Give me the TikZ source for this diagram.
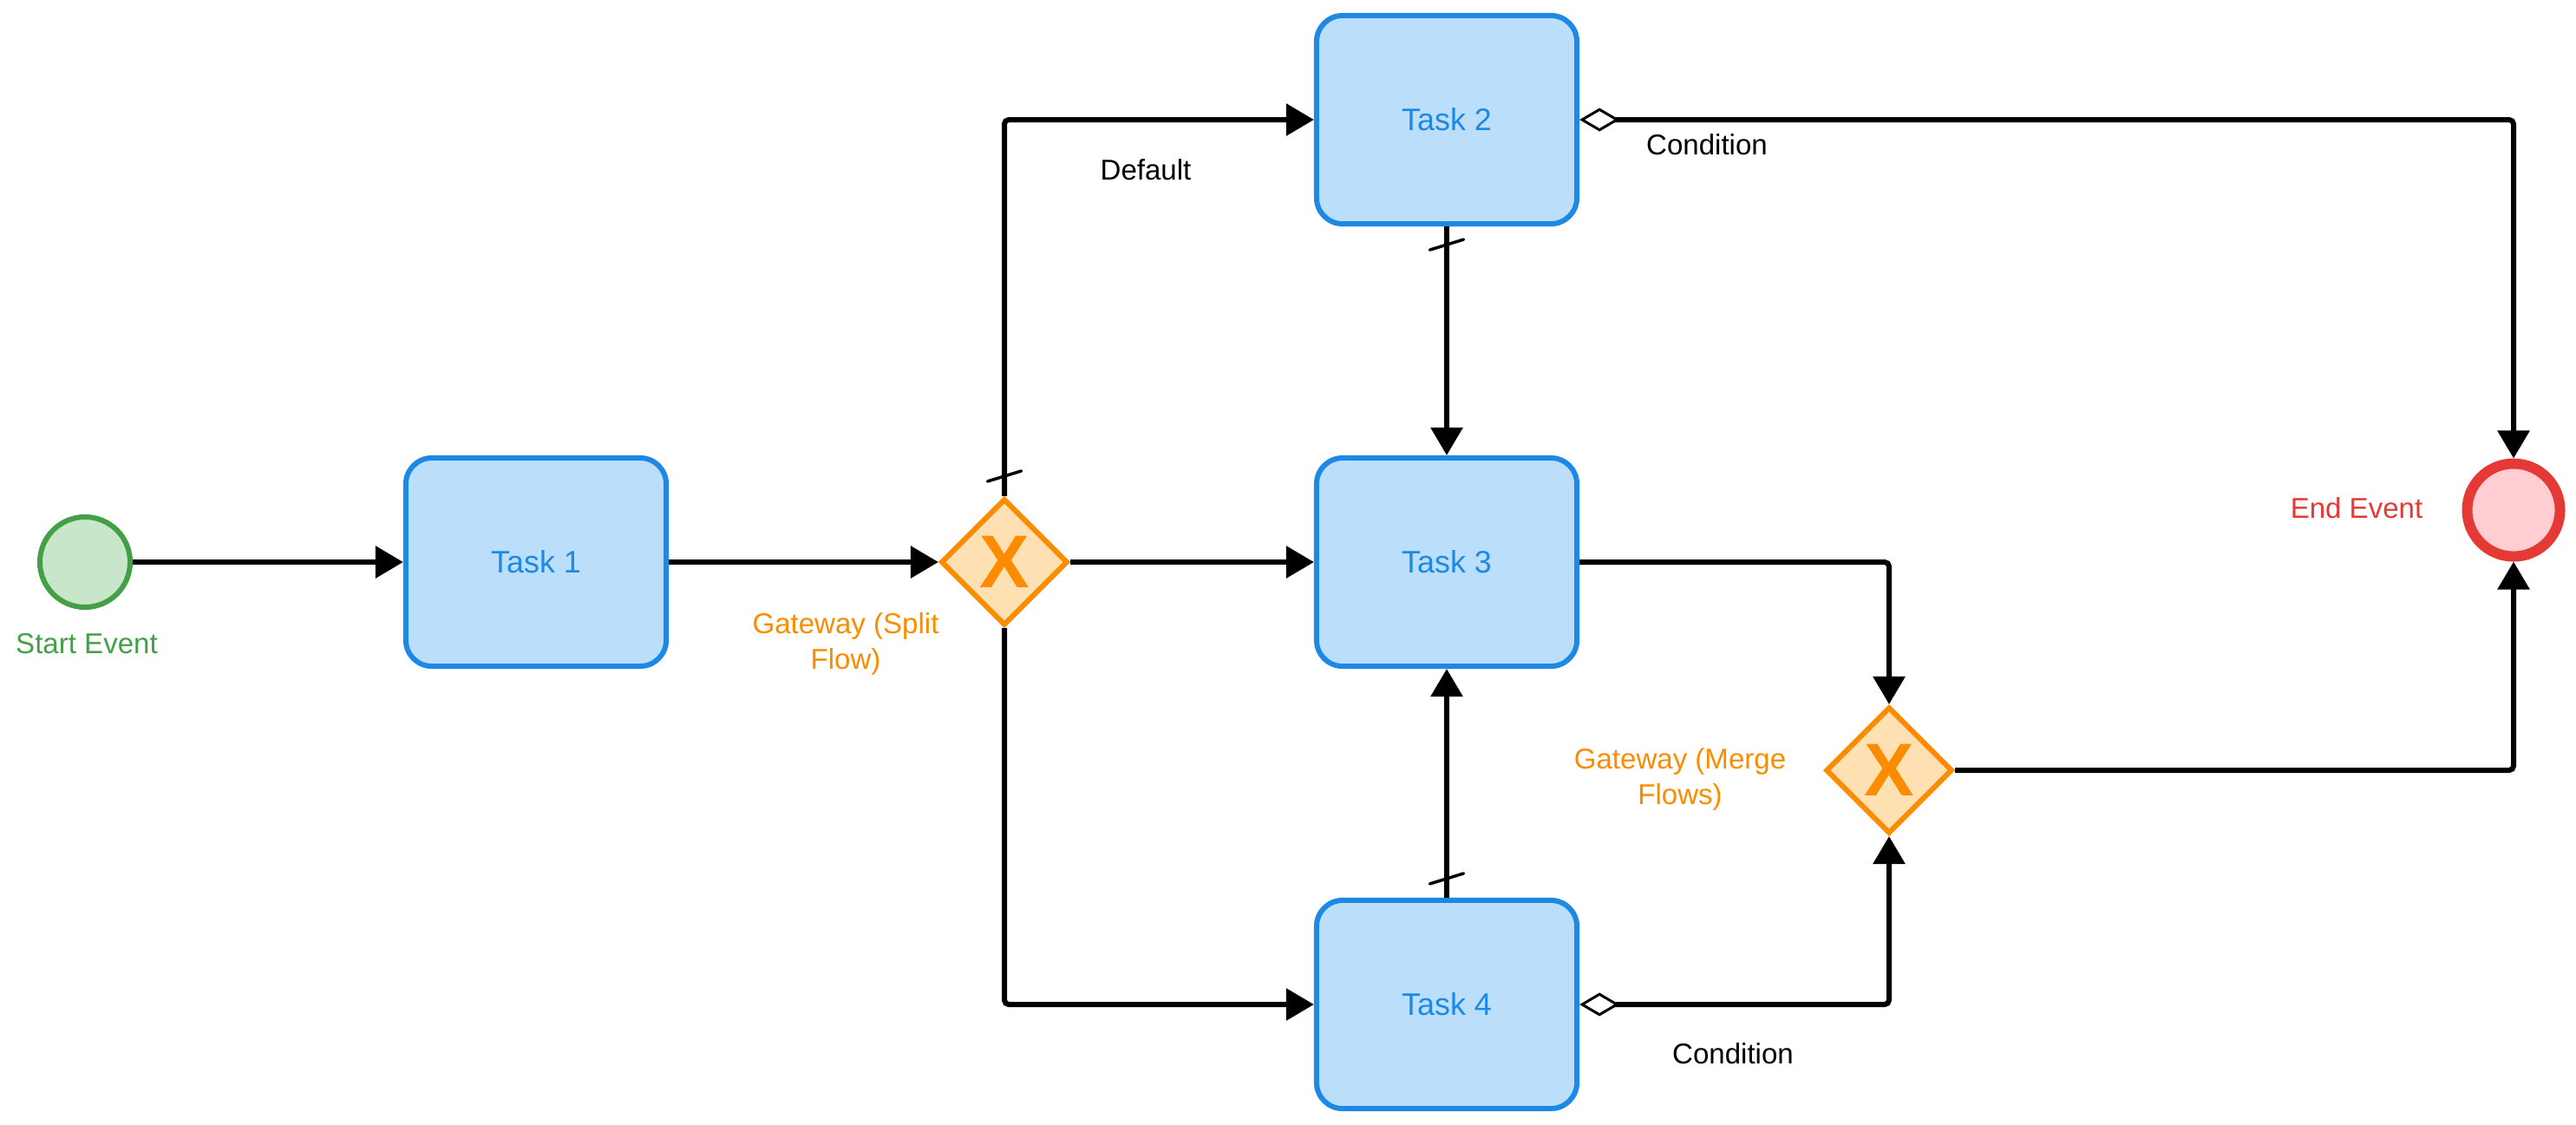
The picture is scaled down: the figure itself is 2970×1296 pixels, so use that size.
\documentclass[tikz,border=0pt]{standalone}
\usepackage{fontspec}
\setmainfont{Liberation Sans}
\usetikzlibrary{shapes.geometric,arrows.meta,calc}
\definecolor{taskfill}{HTML}{BBDEFB}
\definecolor{taskline}{HTML}{1E88E5}
\definecolor{startfill}{HTML}{C8E6C9}
\definecolor{startline}{HTML}{43A047}
\definecolor{gwfill}{HTML}{FFE0B2}
\definecolor{gwline}{HTML}{FB8C00}
\definecolor{endfill}{HTML}{FFCDD2}
\definecolor{endline}{HTML}{E53935}

\begin{document}
\begin{tikzpicture}[x=0.01cm,y=-0.01cm,
  lbl/.style={font=\fontsize{9.4pt}{11.7pt}\selectfont, inner sep=0pt, align=center},
  task/.style={rectangle, rounded corners=0.3cm, draw=taskline, fill=taskfill,
    line width=0.06cm, minimum width=3cm, minimum height=2.4cm, text=taskline,
    font=\fontsize{10.2pt}{12pt}\selectfont},
  event/.style={circle, line width=0.06cm, minimum size=1.04cm, inner sep=0pt},
  gateway/.style={diamond, aspect=1, draw=gwline, fill=gwfill, line width=0.06cm,
    minimum width=1.46cm, minimum height=1.46cm, inner sep=0pt,
    label={[text=gwline, font=\fontsize{24.5pt}{24.5pt}\selectfont\bfseries, inner sep=0pt]center:X}},
  flow/.style={line width=0.06cm, rounded corners=0.05cm,
    -{Triangle[length=0.32cm, width=0.36cm]}},
  cond/.style={flow,
    {Diamond[fill=white, length=0.46cm, width=0.27cm, line width=0.03cm]}-{Triangle[length=0.32cm, width=0.36cm]}},
  dflt/.style={line width=0.035cm, line cap=round}
]
\useasboundingbox (0,0) rectangle (2970,1296);

% events, tasks and gateways
\node[event, draw=startline, fill=startfill] (start) at (98,648) {};
\node[task] (t1) at (618,648) {Task 1};
\node[gateway] (g1) at (1158,648) {};
\node[task] (t2) at (1668,138) {Task 2};
\node[task] (t3) at (1668,648) {Task 3};
\node[task] (t4) at (1668,1158) {Task 4};
\node[gateway] (g2) at (2178,888) {};
\node[event, draw=endline, fill=endfill, line width=0.12cm, minimum size=1.07cm] (end) at (2898,588) {};

% captions
\node[lbl, text=startline, anchor=base] (startlbl) at (100,753) {Start Event};
\node[lbl, text=gwline] (g1lbl) at (975,742) {Gateway (Split\\Flow)};
\node[lbl, text=gwline] (g2lbl) at (1937,898) {Gateway (Merge\\Flows)};
\node[lbl, text=endline, anchor=base] (endlbl) at (2717,597) {End Event};
\node[lbl, anchor=base] (deflbl) at (1321,207) {Default};
\node[lbl, anchor=base] (c1lbl) at (1968,178) {Condition};
\node[lbl, anchor=base] (c2lbl) at (1998,1226) {Condition};

% sequence flows
\draw[flow] (start) -- (t1);
\draw[flow] (t1) -- (g1);
\draw[flow] (g1) -- (t3);
\draw[flow] (g1.north) |- (t2.west);
\draw[flow] (g1.south) |- (t4.west);
\draw[flow] (t2) -- (t3);
\draw[flow] (t4) -- (t3);
\draw[cond] (t2.east) -| (end.north);
\draw[flow] (t3.east) -| (g2.north);
\draw[cond] (t4.east) -| (g2.south);
\draw[flow] (g2.east) -| (end.south);

% default-flow slashes
\coordinate (s1) at ($(g1.north)+(0,-23)$);
\coordinate (s2) at ($(t2.south)+(0,21)$);
\coordinate (s3) at ($(t4.north)+(0,-22)$);
\foreach \s in {s1,s2,s3}
  \draw[dflt] ($(\s)+(-19.5,6)$) -- ($(\s)+(19.5,-6)$);
\end{tikzpicture}
\end{document}
